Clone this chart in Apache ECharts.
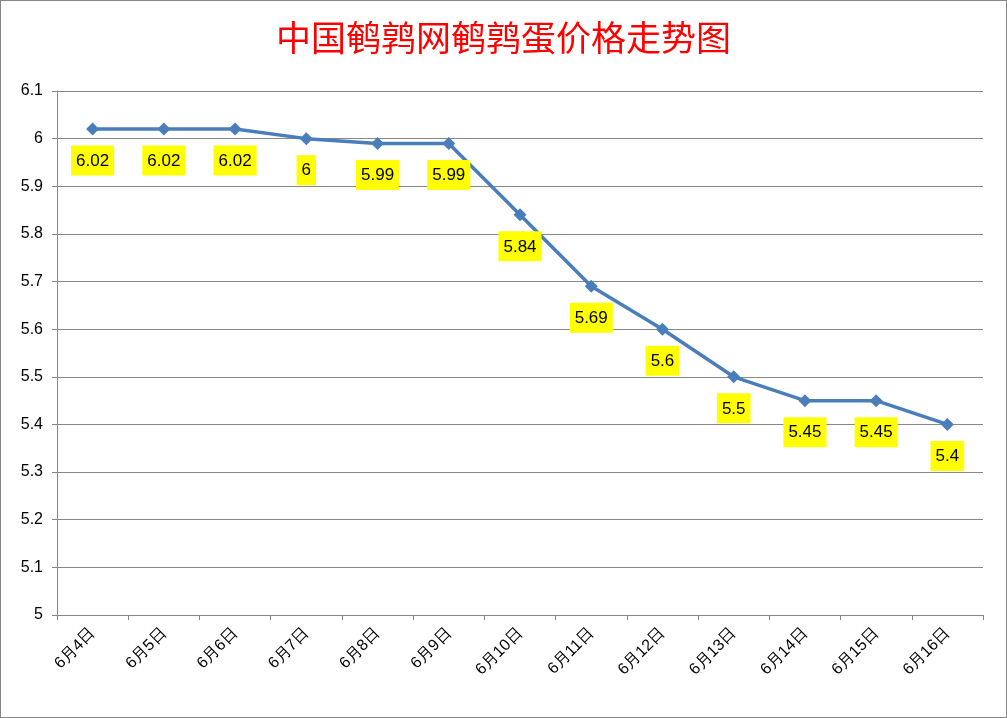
<!DOCTYPE html>
<html><head><meta charset="utf-8">
<script src="https://cdn.jsdelivr.net/npm/echarts@6/dist/echarts.min.js"></script>
<style>html,body{margin:0;padding:0;background:#fff}#c{width:1005px;height:716px;border:1px solid #888}</style>
</head><body><div id="c"></div>
<script>
const categories = ['6月4日','6月5日','6月6日','6月7日','6月8日','6月9日','6月10日','6月11日','6月12日','6月13日','6月14日','6月15日','6月16日'];
const prices = [6.02,6.02,6.02,6,5.99,5.99,5.84,5.69,5.6,5.5,5.45,5.45,5.4];
const chart = echarts.init(document.getElementById('c'));
chart.setOption({
  animation:false,
  title:{text:'中国鹌鹑网鹌鹑蛋价格走势图',left:'center',top:14,textStyle:{color:'#ff0000',fontSize:35,fontWeight:'normal',fontFamily:'Noto Sans CJK SC'}},
  grid:{left:56,right:23,top:90,bottom:102},
  xAxis:{type:'category',data:categories,boundaryGap:true,
    axisLine:{lineStyle:{color:'#888'}},axisTick:{show:true,alignWithLabel:false,lineStyle:{color:'#888'}},
    axisLabel:{rotate:45,fontSize:16,color:'#000',fontFamily:'Liberation Sans',margin:16}},
  yAxis:{type:'value',min:5,max:6.1,interval:0.1,
    axisLine:{show:true,lineStyle:{color:'#888'}},axisTick:{show:true,lineStyle:{color:'#888'}},
    splitLine:{lineStyle:{color:'#888'}},
    axisLabel:{fontSize:16,color:'#000',fontFamily:'Liberation Sans',margin:14,formatter:v=>String(+v.toFixed(1))}},
  series:[{type:'line',data:prices,symbol:'diamond',symbolSize:13,
    lineStyle:{color:'#4a7ebb',width:3.5},itemStyle:{color:'#4a7ebb'},
    label:{show:true,position:'bottom',distance:10,backgroundColor:'#ffff00',color:'#000',fontSize:17,fontFamily:'Liberation Sans',padding:[7,5,6,5]}}]
});
</script></body></html>
